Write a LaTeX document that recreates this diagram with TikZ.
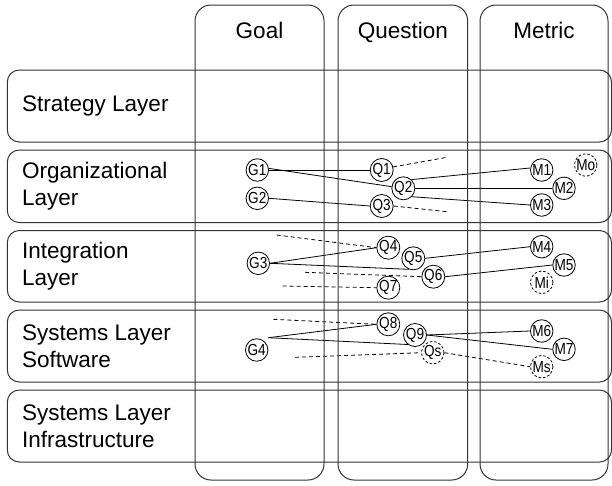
\documentclass[tikz,border=0pt]{standalone}
\usepackage{fontspec}
\setmainfont{Liberation Sans}
\newfontfamily\tagfont[FakeStretch=0.85]{Liberation Sans}
\usetikzlibrary{backgrounds}
\begin{document}
\begin{tikzpicture}[x=1pt,y=-1pt,
  frame/.style={draw=black!80, line width=1pt},
  layer/.style={frame, rounded corners=12pt},
  lane/.style={frame, rounded corners=16pt},
  lbl/.style={font=\fontsize{22.5}{26.5}\selectfont, inner sep=0pt, align=left},
  el/.style={circle, draw=black, fill=white, line width=0.8pt, minimum size=22.5pt,
    inner sep=0pt, font=\tagfont\fontsize{16}{16}\selectfont},
  opt/.style={el, dash pattern=on 2.5pt off 2pt},
  link/.style={draw=black, line width=0.8pt},
  hint/.style={link, dash pattern=on 4pt off 3pt},
]
\useasboundingbox (0,0) rectangle (612,485);

% swim lanes (columns)
\draw[lane] (195,5) rectangle (324,480);
\draw[lane] (338,5) rectangle (467.7,480);
\draw[lane] (480,5) rectangle (608,480);
\node[lbl, anchor=base] (hGoal) at (259.5,38.5) {Goal};
\node[lbl, anchor=base] (hQuestion) at (402.9,38.5) {Question};
\node[lbl, anchor=base] (hMetric) at (544,38.5) {Metric};

% layers (rows)
\draw[layer] (7.3,70) rectangle (611.5,142);
\draw[layer] (7.3,150) rectangle (611.5,222.5);
\draw[layer] (7.3,230.5) rectangle (611.5,302);
\draw[layer] (7.3,310) rectangle (611.5,382);
\draw[layer] (7.3,390) rectangle (611.5,462);
\node[lbl, anchor=west] (lStrat) at (22,106) {Strategy Layer};
\node[lbl, anchor=west] (lOrg) at (22,186.3) {Organizational\\Layer};
\node[lbl, anchor=west] (lInt) at (22,266.3) {Integration\\Layer};
\node[lbl, anchor=west] (lSw) at (22,346) {Systems Layer\\Software};
\node[lbl, anchor=west] (lInf) at (22,426) {Systems Layer\\Infrastructure};

% organizational layer
\node[el] (G1) at (257.3,170) {G1};
\node[el] (G2) at (257.3,198.3) {G2};
\node[el] (Q1) at (381.7,170) {Q1};
\node[el] (Q2) at (403.3,188.3) {Q2};
\node[el] (Q3) at (381.7,206) {Q3};
\node[el] (M1) at (541.7,170) {M1};
\node[el] (M2) at (564,188.3) {M2};
\node[el] (M3) at (541.7,205) {M3};
\node[opt] (Mo) at (585.7,165) {Mo};

% integration layer
\node[el] (G3) at (258.3,263.3) {G3};
\node[el] (Q4) at (388.3,247.7) {Q4};
\node[el] (Q5) at (413.3,258.3) {Q5};
\node[el] (Q6) at (433.3,276.7) {Q6};
\node[el] (Q7) at (388.3,287.7) {Q7};
\node[el] (M4) at (541.7,246.7) {M4};
\node[el] (M5) at (564,265) {M5};
\node[opt] (Mi) at (541.7,282.3) {Mi};

% systems layer software
\node[el] (G4) at (256.7,350) {G4};
\node[el] (Q8) at (388.3,324.3) {Q8};
\node[el] (Q9) at (415,335) {Q9};
\node[opt] (Qs) at (432.7,352.7) {Qs};
\node[el] (M6) at (541.7,331) {M6};
\node[el] (M7) at (564,349.3) {M7};
\node[opt] (Ms) at (541.7,366.7) {Ms};

% loose ends of the links
\coordinate (q1out) at (447,157.3);
\coordinate (q3out) at (447,211.7);
\coordinate (q4in) at (276.7,235);
\coordinate (q6in) at (305,272.3);
\coordinate (q7in) at (282.7,286);
\coordinate (q8in) at (273.3,319.3);
\coordinate (qsin) at (295,357.3);
\coordinate (g4o) at (268.3,337.7);

\begin{pgfonlayer}{background}
  % organizational links
  \draw[link] (G1.east) -- (Q1.west);
  \draw[link] (G1.8) -- (Q2.172);
  \draw[link] (G2.east) -- (Q3.west);
  \draw[link] (Q2.47) -- (M1.170);
  \draw[link] (Q2.east) -- (M2.west);
  \draw[link] (Q2.-45) -- (M3.west);
  \draw[hint] (Q1.15) -- (q1out);
  \draw[hint] (Q3.east) -- (q3out);
  % integration links
  \draw[link] (G3.east) -- (Q4.west);
  \draw[link] (G3.east) -- (Q5.248);
  \draw[link] (Q5.east) -- (M4.west);
  \draw[link] (Q6.east) -- (M5.west);
  \draw[hint] (q4in) -- (Q4.west);
  \draw[hint] (q6in) -- (Q6.west);
  \draw[hint] (q7in) -- (Q7.west);
  % systems software links
  \draw[link] (g4o) -- (Q8.west);
  \draw[link] (g4o) -- (Q9.233);
  \draw[link] (Q9.east) -- (M6.west);
  \draw[link] (Q9.east) -- (M7.west);
  \draw[hint] (q8in) -- (Q8.west);
  \draw[hint] (qsin) -- (Qs.west);
  \draw[hint] (Qs.east) -- (Ms.west);
\end{pgfonlayer}
\end{tikzpicture}
\end{document}
